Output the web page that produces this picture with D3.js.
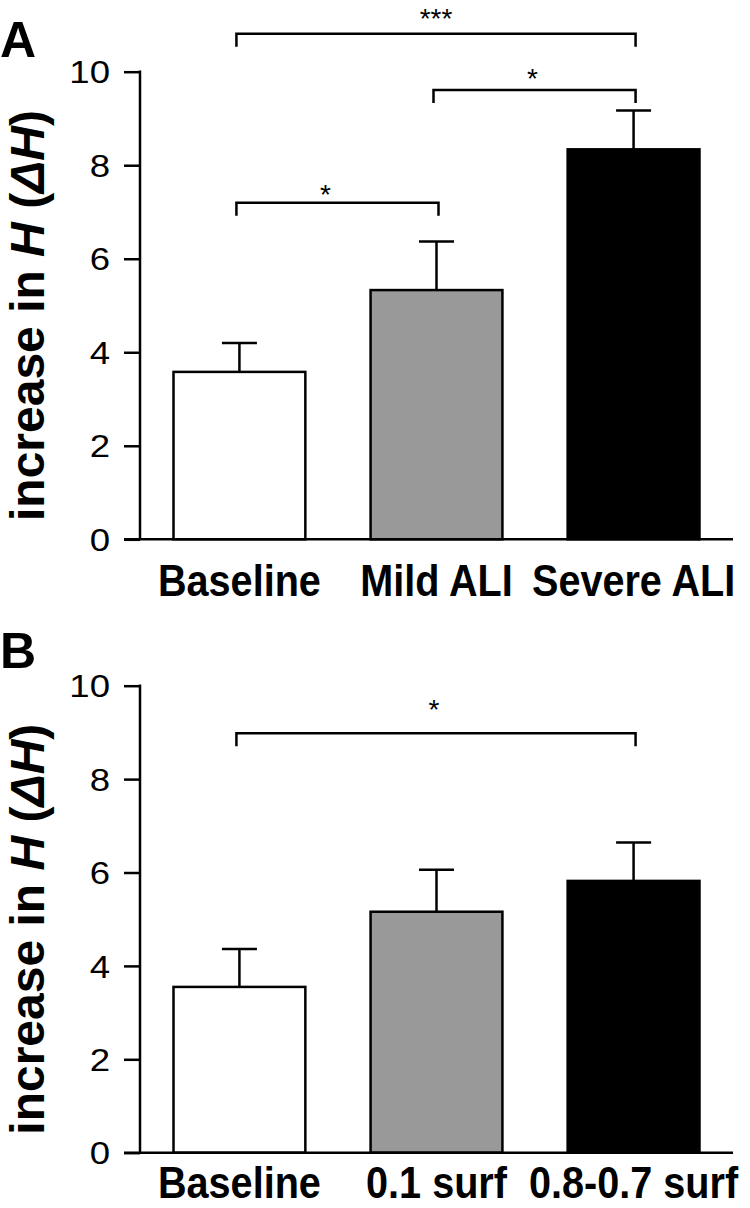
<!DOCTYPE html>
<html>
<head>
<meta charset="utf-8">
<script src="https://cdn.jsdelivr.net/npm/d3@7"></script>
<style>
  html, body { margin: 0; padding: 0; background: #fff; }
  svg { display: block; }
  text { font-family: "Liberation Sans", Arial, Helvetica, sans-serif; fill: #000; }
</style>
</head>
<body>
<svg id="chart" width="750" height="1208"></svg>
<script>
// ---- data ----
const panelACategories = ["Baseline", "Mild ALI", "Severe ALI"];
const panelAMeans = [3.58, 5.33, 8.34];
const panelAErrors = [0.62, 1.04, 0.83];
const panelASig = [
  { from: 0, to: 1, level: 7.20, label: "*" },
  { from: 1, to: 2, level: 9.61, label: "*" },
  { from: 0, to: 2, level: 10.81, label: "***" }
];

const panelBCategories = ["Baseline", "0.1 surf", "0.8-0.7 surf"];
const panelBMeans = [3.55, 5.16, 5.82];
const panelBErrors = [0.81, 0.90, 0.82];
const panelBSig = [
  { from: 0, to: 2, level: 8.98, label: "*" }
];

const yTicks = [0, 2, 4, 6, 8, 10];
const barFills = ["#ffffff", "#999999", "#000000"];
const yDomain = [0, 10];

// ---- drawing ----
const svg = d3.select("#chart");
const SW = 2.5;

function drawPanel(opt) {
  const g = svg.append("g");
  const y = d3.scaleLinear().domain(yDomain).range([opt.y0, opt.y10]);
  const x = d3.scaleBand().domain(opt.categories).range([140, 733])
    .paddingInner(0.331).paddingOuter(0.17).align(0.5);

  // panel letter
  g.append("text").attr("x", 0).attr("y", opt.letterY)
    .attr("font-size", 50).attr("font-weight", "bold").text(opt.letter);

  // y axis
  const ax = g.append("g").attr("transform", `translate(140,0)`)
    .call(d3.axisLeft(y).tickValues(yTicks).tickSize(16).tickPadding(14).tickFormat(d3.format("d")));
  ax.select(".domain").remove();
  ax.selectAll(".tick line").attr("stroke", "#000").attr("stroke-width", SW);
  ax.selectAll(".tick text")
    .attr("font-size", 31)
    .attr("font-family", '"Liberation Sans", Arial, sans-serif')
    .attr("fill", "#000")
    .attr("transform", "translate(-30,0) scale(1.18,1) translate(30,0)")
    .attr("dy", "0.36em");
  g.append("line").attr("x1", 140).attr("x2", 140).attr("y1", y(10) - 1.2).attr("y2", y(0))
    .attr("stroke", "#000").attr("stroke-width", SW);

  // bars
  const data = opt.categories.map((c, i) => ({ c, m: opt.means[i], e: opt.errors[i], i }));
  // error bars (upper only)
  g.selectAll(".err").data(data).enter().append("line")
    .attr("x1", d => x(d.c) + x.bandwidth() / 2).attr("x2", d => x(d.c) + x.bandwidth() / 2)
    .attr("y1", d => y(d.m)).attr("y2", d => y(d.m + d.e))
    .attr("stroke", "#000").attr("stroke-width", SW);
  g.selectAll(".cap").data(data).enter().append("line")
    .attr("x1", d => x(d.c) + x.bandwidth() / 2 - 17.5).attr("x2", d => x(d.c) + x.bandwidth() / 2 + 17.5)
    .attr("y1", d => y(d.m + d.e)).attr("y2", d => y(d.m + d.e))
    .attr("stroke", "#000").attr("stroke-width", SW);
  g.selectAll(".bar").data(data).enter().append("rect")
    .attr("x", d => x(d.c)).attr("width", x.bandwidth())
    .attr("y", d => y(d.m)).attr("height", d => y(0) - y(d.m))
    .attr("fill", d => barFills[d.i]).attr("stroke", "#000").attr("stroke-width", SW);

  // x axis line
  g.append("line").attr("x1", 124).attr("x2", 733).attr("y1", y(0)).attr("y2", y(0))
    .attr("stroke", "#000").attr("stroke-width", SW);

  // category labels
  g.selectAll(".cat").data(data).enter().append("text")
    .attr("text-anchor", "middle")
    .attr("font-size", 45).attr("font-weight", "bold")
    .attr("transform", d => `translate(${x(d.c) + x.bandwidth() / 2},${opt.labelY}) scale(0.88,1)`)
    .text(d => d.c);

  // y label
  const yl = g.append("text")
    .attr("transform", `translate(44,${(y(0) + y(10)) / 2 + 10}) rotate(-90)`)
    .attr("text-anchor", "middle").attr("font-size", 48).attr("font-weight", "bold");
  yl.append("tspan").text("increase in ");
  yl.append("tspan").attr("font-style", "italic").text("H");
  yl.append("tspan").text(" (");
  yl.append("tspan").attr("font-style", "italic").text("\u0394H");
  yl.append("tspan").text(")");

  // significance brackets
  const cx = i => x(opt.categories[i]) + x.bandwidth() / 2;
  opt.sig.forEach((s, k) => {
    const x1 = cx(s.from) - 3, x2 = cx(s.to) + 2;
    const yy = y(s.level);
    g.append("path")
      .attr("d", `M${x1},${yy + 13}V${yy}H${x2}V${yy + 13}`)
      .attr("fill", "none").attr("stroke", "#000").attr("stroke-width", SW);
    g.append("text").attr("x", (x1 + x2) / 2 + (opt.starDx[k] || 0))
      .attr("y", yy - opt.starGap[k])
      .attr("text-anchor", "middle").attr("font-size", 28).text(s.label);
  });
}

drawPanel({
  letter: "A", letterY: 57,
  categories: panelACategories, means: panelAMeans, errors: panelAErrors, sig: panelASig,
  y0: 539.3, y10: 71.7, labelY: 596,
  starGap: [-1, 2, 6], starDx: [-12, -2, 0]
});
drawPanel({
  letter: "B", letterY: 668,
  categories: panelBCategories, means: panelBMeans, errors: panelBErrors, sig: panelBSig,
  y0: 1152.7, y10: 685.7, labelY: 1198,
  starGap: [14], starDx: [-2]
});
</script>
</body>
</html>
